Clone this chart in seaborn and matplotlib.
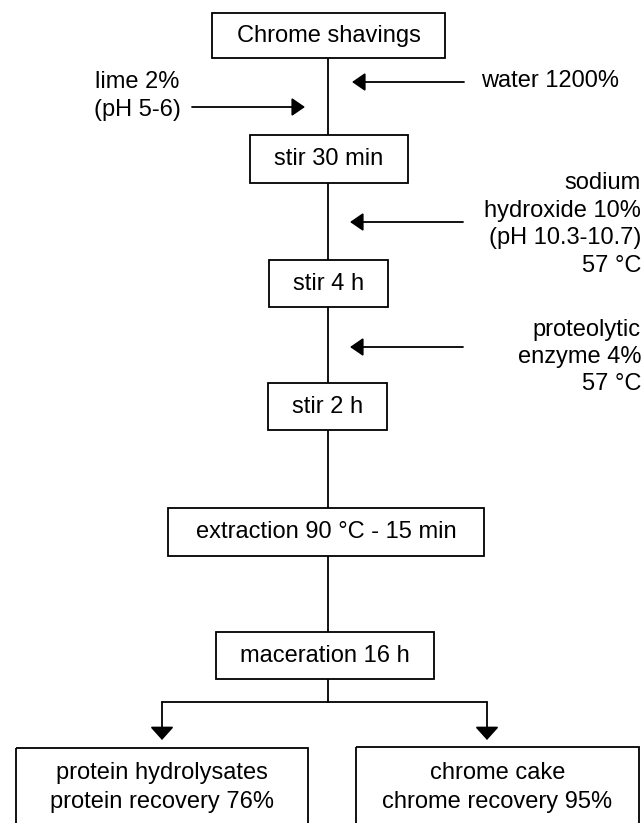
import matplotlib
matplotlib.use("Agg")
import matplotlib.pyplot as plt
import matplotlib.patches as mpatches
import seaborn as sns

sns.set_style('white')
plt.rcParams['font.family'] = ['Liberation Sans', 'DejaVu Sans']
plt.rcParams['text.color'] = 'black'

# process steps down the main line
steps = ["Chrome shavings", "stir 30 min", "stir 4 h", "stir 2 h",
         "extraction 90 °C - 15 min", "maceration 16 h"]
# products after maceration
products = [["protein hydrolysates", "protein recovery 76%"],
            ["chrome cake", "chrome recovery 95%"]]
# additions (text lines, side)
additions = [(["lime 2%", "(pH 5-6)"], "left"),
             (["water 1200%"], "right"),
             (["sodium", "hydroxide 10%", "(pH 10.3-10.7)", "57 °C"], "right"),
             (["proteolytic", "enzyme 4%", "57 °C"], "right")]

# layout in pixel space (x0, x1, y0, y1)
step_boxes = [(212, 445, 13, 58), (250, 408, 135, 183), (269, 388, 260, 307),
              (268, 387, 383, 430), (168, 484, 508, 556), (216, 434, 632, 679)]
product_boxes = [(16, 308, 748, 840), (356, 639, 747, 840)]
spine_x = 328
branch_y = 702
tip_y = 740
# arrow y, tail x, tip x ; text anchor x, text line ys
add_layout = [(107, 192, 305, 137, [82, 110]),
              (82, 464, 352, 481, [81]),
              (222, 463, 350, 641, [183, 211, 238, 266]),
              (347, 463, 350, 641, [330, 357, 384])]

FS = 17
LW = 1.3

fig = plt.figure(figsize=(6.42, 8.23), dpi=100)
ax = fig.add_axes([0, 0, 1, 1])
ax.set_xlim(0, 642)
ax.set_ylim(823, 0)
ax.axis('off')

# spine
sns.lineplot(x=[spine_x, spine_x], y=[step_boxes[0][3], step_boxes[-1][2]],
             color='black', lw=LW, ax=ax, estimator=None, sort=False)
sns.lineplot(x=[spine_x, spine_x], y=[step_boxes[-1][3], branch_y],
             color='black', lw=LW, ax=ax, estimator=None, sort=False)

for label, (x0, x1, y0, y1) in zip(steps, step_boxes):
    ax.add_patch(mpatches.Rectangle((x0, y0), x1 - x0, y1 - y0, fill=True,
                                    fc='white', ec='black', lw=LW, zorder=3))
    ax.text((x0 + x1) / 2, (y0 + y1) / 2, label, ha='center', va='center',
            fontsize=FS, zorder=4)

# branch to products
centers = [162, 487]
ax.plot([centers[0], centers[1]], [branch_y, branch_y], color='black', lw=LW)
for cx, lines, (x0, x1, y0, y1) in zip(centers, products, product_boxes):
    ax.annotate('', xy=(cx, tip_y), xytext=(cx, branch_y),
                arrowprops=dict(arrowstyle='-|>,head_length=0.8,head_width=0.72',
                                mutation_scale=10, color='black', lw=LW,
                                shrinkA=0, shrinkB=0))
    ax.add_patch(mpatches.Rectangle((x0, y0), x1 - x0, y1 - y0, fill=False,
                                    ec='black', lw=LW))
    tx = (x0 + x1) / 2
    for ty, t in zip([773, 802], lines):
        ax.text(tx, ty, t, ha='center', va='center', fontsize=FS)

for (lines, side), (ay, tail, tip, tx, tys) in zip(additions, add_layout):
    ax.annotate('', xy=(tip, ay), xytext=(tail, ay),
                arrowprops=dict(arrowstyle='-|>,head_length=0.8,head_width=0.55',
                                mutation_scale=10, color='black', lw=LW,
                                shrinkA=0, shrinkB=0))
    if side == 'left':
        ha = 'center'
    elif len(lines) == 1:
        ha = 'left'
    else:
        ha = 'right'
    for ty, t in zip(tys, lines):
        ax.text(tx, ty, t, ha=ha, va='center', fontsize=FS)

fig.savefig('out.png', dpi=100)
